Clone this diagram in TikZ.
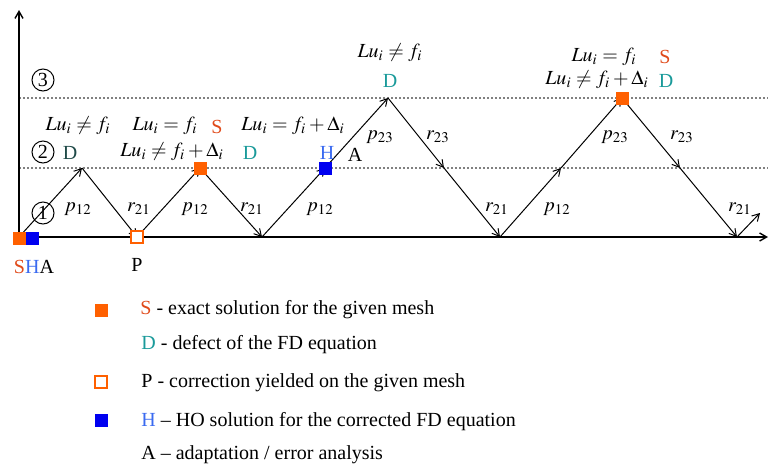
\documentclass[tikz,border=0pt]{standalone}
\usepackage{mathptmx}
\usepackage{fontspec}
\setmainfont{Liberation Serif}
\usepackage{tikz}
\usepackage{xcolor}
\usetikzlibrary{arrows.meta}
\definecolor{solorange}{HTML}{FF6000}
\definecolor{stext}{HTML}{E04A1A}
\definecolor{dteal}{HTML}{1A9A9A}
\definecolor{darkd}{HTML}{1F4A48}
\definecolor{hblue}{HTML}{0000F0}
\definecolor{htext}{HTML}{3A6AF0}

\begin{document}
\begin{tikzpicture}[
  x=0.5pt, y=-0.5pt,
  >={Straight Barb[length=3.5pt,width=4pt]},
  font=\fontsize{10}{12}\selectfont,
  axis/.style={line width=0.7pt, ->},
  level/.style={gray, line width=1pt, densely dotted},
  path/.style={line width=0.5pt, ->},
  lvl/.style={circle, draw, line width=0.5pt, inner sep=0pt, minimum size=11pt},
  lab/.style={inner sep=0pt},
  fullsq/.style={rectangle, fill=solorange, inner sep=0pt, minimum size=6.5pt},
  holsq/.style={rectangle, draw=solorange, fill=white, line width=0.8pt, inner sep=0pt, minimum size=5.8pt},
  hosq/.style={rectangle, fill=hblue, inner sep=0pt, minimum size=6.5pt}
]
\useasboundingbox (0,0) rectangle (773,467);
% axes and levels
\coordinate (o) at (19,237);
\coordinate (xend) at (768,237);
\coordinate (yend) at (19,10);
\coordinate (l2a) at (19,168);
\coordinate (l2b) at (768,168);
\coordinate (l3a) at (19,98);
\coordinate (l3b) at (768,98);
\draw[level] (l2a) -- (l2b);
\draw[level] (l3a) -- (l3b);
\draw[axis] (o) -- (xend);
\draw[axis] (o) -- (yend);
% zigzag
\coordinate (v1) at (82,168);
\coordinate (v2) at (137,237);
\coordinate (v3) at (200,168);
\coordinate (v4) at (262,237);
\coordinate (m1) at (325,168);
\coordinate (v5) at (388,98);
\coordinate (m2) at (444,168);
\coordinate (v6) at (500,237);
\coordinate (m3) at (561,168);
\coordinate (v7) at (622,98);
\coordinate (m4) at (680,168);
\coordinate (v8) at (737,237);
\coordinate (v9) at (760,213);
\draw[path] (o) -- (v1);
\draw[path] (v1) -- (v2);
\draw[path] (v2) -- (v3);
\draw[path] (v3) -- (v4);
\draw[path] (v4) -- (m1);
\draw[path] (m1) -- (v5);
\draw[path] (v5) -- (m2);
\draw[path] (m2) -- (v6);
\draw[path] (v6) -- (m3);
\draw[path] (m3) -- (v7);
\draw[path] (v7) -- (m4);
\draw[path] (m4) -- (v8);
\draw[path] (v8) -- (v9);
% transfer labels
\node[lab] (pa) at (78,209) {$p_{12}$};
\node[lab] (ra) at (139,209) {$r_{21}$};
\node[lab] (pb) at (195,209) {$p_{12}$};
\node[lab] (rb) at (252,209) {$r_{21}$};
\node[lab] (pc) at (320,209) {$p_{12}$};
\node[lab] (pd) at (380,137) {$p_{23}$};
\node[lab] (rc) at (438,137) {$r_{23}$};
\node[lab] (rd) at (497,209) {$r_{21}$};
\node[lab] (pe) at (557,209) {$p_{12}$};
\node[lab] (pf) at (615,137) {$p_{23}$};
\node[lab] (re) at (682,137) {$r_{23}$};
\node[lab] (rf) at (740,209) {$r_{21}$};
% level numbers
\node[lvl] (n1) at (43,213) {1};
\node[lvl] (n2) at (43,152) {2};
\node[lvl] (n3) at (43,80) {3};
% state texts
\node[lab] (e1) at (78,126) {$Lu_i \neq f_i$};
\node[lab, text=darkd] (d1) at (70,153) {D};
\node[lab] (e2) at (165,126) {$Lu_i = f_i$};
\node[lab, text=stext] (s1) at (217,127) {S};
\node[lab] (e3) at (172,152) {$Lu_i \neq f_i + \Delta_i$};
\node[lab, text=dteal] (d2) at (250,153) {D};
\node[lab] (e4) at (293,126) {$Lu_i = f_i + \Delta_i$};
\node[lab, text=htext] (h1) at (327,153) {H};
\node[lab] (a1) at (355,155) {A};
\node[lab] (e5) at (390,53) {$Lu_i \neq f_i$};
\node[lab, text=dteal] (d3) at (390,81) {D};
\node[lab] (e6) at (604,57) {$Lu_i = f_i$};
\node[lab, text=stext] (s2) at (665,57) {S};
\node[lab] (e7) at (597,80) {$Lu_i \neq f_i + \Delta_i$};
\node[lab, text=dteal] (d4) at (666,81) {D};
% markers
\node[fullsq] (q1) at (19,238) {};
\node[hosq] (q2) at (32,238) {};
\node[holsq] (q3) at (137,237) {};
\node[fullsq] (q4) at (200,168) {};
\node[hosq] (q5) at (325,168) {};
\node[fullsq] (q6) at (622,98) {};
\node[lab] (sha) at (34,267) {\textcolor{stext}{S}\textcolor{htext}{H}A};
\node[lab] (pp) at (137,265) {P};
% legend
\node[fullsq] (k1) at (101,310) {};
\node[holsq] (k3) at (101,382) {};
\node[hosq] (k4) at (101,420) {};
\node[lab, anchor=west] (t1) at (140,310) {\textcolor{stext}{S} - exact solution for the given mesh};
\node[lab, anchor=west] (t2) at (141,345) {\textcolor{dteal}{D} - defect of the FD equation};
\node[lab, anchor=west] (t3) at (141,383) {P - correction yielded on the given mesh};
\node[lab, anchor=west] (t4) at (141,422) {\textcolor{htext}{H} -- HO solution for the corrected FD equation};
\node[lab, anchor=west] (t5) at (141,455) {A -- adaptation / error analysis};
\end{tikzpicture}
\end{document}
